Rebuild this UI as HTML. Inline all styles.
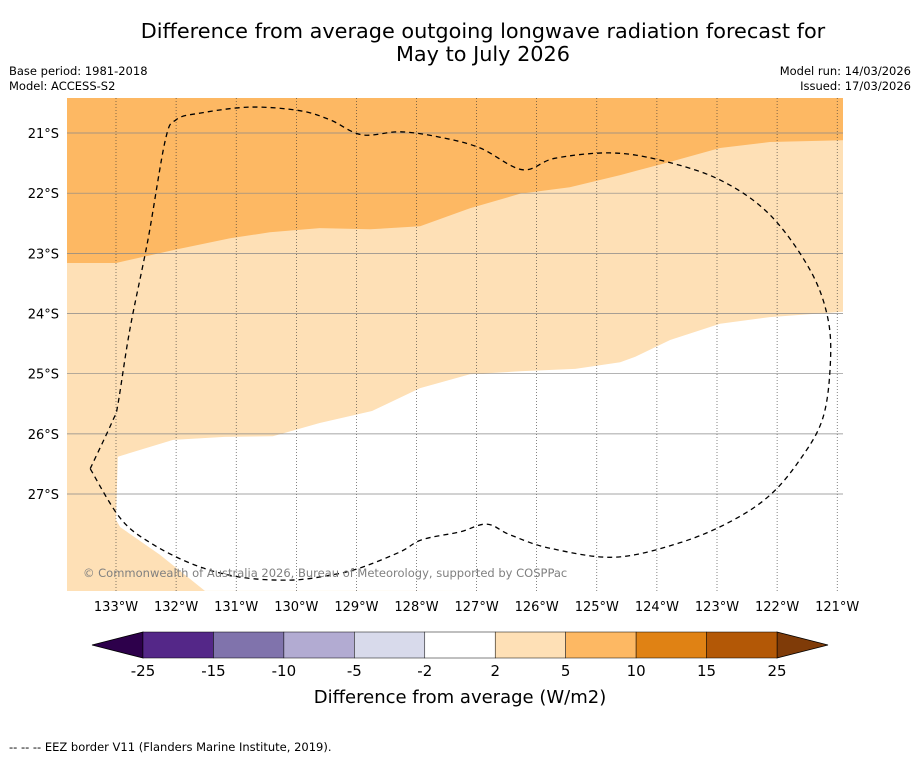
<!DOCTYPE html>
<html><head><meta charset="utf-8"><style>
body{margin:0;background:#fff;font-family:"Liberation Sans","DejaVu Sans",sans-serif;}
svg text{font-family:"DejaVu Sans","Liberation Sans",sans-serif;}
</style></head><body>
<svg id="chart" width="919" height="758" viewBox="0 0 919 758" xmlns="http://www.w3.org/2000/svg">
<rect width="919" height="758" fill="#fff"/>
<text x="483" y="38" font-size="20.8" text-anchor="middle">Difference from average outgoing longwave radiation forecast for</text>
<text x="483" y="61" font-size="20.8" text-anchor="middle">May to July 2026</text>
<text x="9" y="75" font-size="11.5">Base period: 1981-2018</text>
<text x="9" y="90" font-size="11.5">Model: ACCESS-S2</text>
<text x="911" y="75" font-size="11.5" text-anchor="end">Model run: 14/03/2026</text>
<text x="911" y="90" font-size="11.5" text-anchor="end">Issued: 17/03/2026</text>
<defs><clipPath id="mapclip"><rect x="67" y="98" width="776" height="493"/></clipPath></defs>
<g id="map" clip-path="url(#mapclip)"></g>
<g id="axes"></g>
<text x="83" y="577" font-size="11.5" fill="#808080">© Commonwealth of Australia 2026, Bureau of Meteorology, supported by COSPPac</text>
<g id="cbar"></g>
<text x="460" y="703" font-size="18" text-anchor="middle">Difference from average (W/m2)</text>
<text x="9" y="751" font-size="11.5">--  --  -- EEZ border V11 (Flanders Marine Institute, 2019).</text>
</svg>
<script>
const lonTicks=[-133,-132,-131,-130,-129,-128,-127,-126,-125,-124,-123,-122,-121];
const latTicks=[-21,-22,-23,-24,-25,-26,-27];
const cbLevels=[-25,-15,-10,-5,-2,2,5,10,15,25];
const cbColors=["#542788","#8073ac","#b2abd2","#d8daeb","#ffffff","#fee0b6","#fdb863","#e08214","#b35806"];
const cbLow="#2d004b", cbHigh="#7f3b08";
const orangeEdge=[[-133.82,-23.16],[-133.0,-23.16],[-132.02,-22.94],[-131.10,-22.75],[-130.44,-22.65],[-129.61,-22.58],[-128.77,-22.60],[-127.94,-22.55],[-127.11,-22.25],[-126.28,-22.01],[-125.45,-21.90],[-124.61,-21.70],[-123.78,-21.48],[-122.95,-21.25],[-122.12,-21.15],[-120.90,-21.12]];
const whiteEdge=[[-120.90,-23.97],[-122.12,-24.06],[-122.95,-24.17],[-123.78,-24.44],[-124.36,-24.72],[-124.61,-24.81],[-125.36,-24.92],[-126.28,-24.96],[-127.11,-25.01],[-127.94,-25.24],[-128.74,-25.62],[-129.61,-25.82],[-130.39,-26.04],[-131.19,-26.05],[-132.05,-26.10],[-132.97,-26.38],[-133.0,-27.43],[-132.93,-27.55],[-132.27,-28.01],[-131.52,-28.61]];
const eezBorder=[[-133.43,-26.58],[-133.05,-25.77],[-132.97,-25.52],[-132.77,-24.27],[-132.47,-22.78],[-132.18,-21.12],[-132.0,-20.78],[-131.60,-20.67],[-130.77,-20.57],[-129.94,-20.63],[-129.44,-20.78],[-128.91,-21.03],[-128.27,-20.98],[-127.61,-21.07],[-126.94,-21.25],[-126.24,-21.61],[-125.70,-21.42],[-124.78,-21.33],[-123.95,-21.45],[-122.95,-21.78],[-122.12,-22.36],[-121.45,-23.28],[-121.15,-24.11],[-121.12,-24.94],[-121.25,-25.77],[-121.62,-26.43],[-122.12,-27.02],[-122.78,-27.46],[-123.62,-27.81],[-124.70,-28.05],[-125.78,-27.90],[-126.44,-27.68],[-126.83,-27.50],[-127.28,-27.63],[-127.91,-27.76],[-128.27,-27.96],[-128.94,-28.23],[-129.44,-28.35],[-130.10,-28.43],[-130.94,-28.38],[-131.69,-28.18],[-132.43,-27.81],[-132.93,-27.40],[-133.43,-26.58]];
const NS="http://www.w3.org/2000/svg";
const X0=67,X1=843,Y0=98,Y1=591;
const xS=lon=>116+(lon+133)*60.1;
const yS=lat=>133-(lat+21)*60.17;
function mk(tag,attrs,parent){const e=document.createElementNS(NS,tag);for(const k in attrs)e.setAttribute(k,attrs[k]);parent.appendChild(e);return e;}
const map=document.getElementById('map');
const pts=a=>a.map(p=>xS(p[0]).toFixed(1)+','+yS(p[1]).toFixed(1)).join(' ');
function smooth(a){const P=a.map(p=>[xS(p[0]),yS(p[1])]);let d='M'+P[0][0].toFixed(1)+','+P[0][1].toFixed(1);
 for(let i=0;i<P.length-1;i++){const p0=P[Math.max(i-1,0)],p1=P[i],p2=P[i+1],p3=P[Math.min(i+2,P.length-1)];
  const c1=[p1[0]+(p2[0]-p0[0])/6,p1[1]+(p2[1]-p0[1])/6],c2=[p2[0]-(p3[0]-p1[0])/6,p2[1]-(p3[1]-p1[1])/6];
  d+=' C'+c1.map(v=>v.toFixed(1)).join(',')+' '+c2.map(v=>v.toFixed(1)).join(',')+' '+p2.map(v=>v.toFixed(1)).join(',');}
 return d;}
let bg=mk('rect',{x:X0,y:Y0,width:X1-X0,height:Y1-Y0,fill:cbColors[5]},map);

let op=mk('polygon',{points:X0+','+Y0+' '+pts(orangeEdge)+' '+X1+','+Y0,fill:cbColors[6]},map);

let wp=mk('polygon',{points:pts(whiteEdge)+' '+X1+','+Y1,fill:'#ffffff'},map);

const ax=document.getElementById('axes');
lonTicks.forEach(l=>{const x=xS(l);
 let g=mk('line',{x1:x,x2:x,y1:Y0,y2:Y1,stroke:'#333','stroke-width':0.6,'stroke-dasharray':'1,2'},map);
 
 let t=mk('text',{x:x,y:611,'font-size':13,'text-anchor':'middle'},ax);t.textContent=Math.abs(l)+'°W';
 });
latTicks.forEach(l=>{const y=yS(l);
 let g=mk('line',{x1:X0,x2:X1,y1:y,y2:y,stroke:'#888','stroke-width':0.7},map);
 
 let t=mk('text',{x:59,y:y+5,'font-size':13,'text-anchor':'end'},ax);t.textContent=Math.abs(l)+'°S';
 });
let ez=mk('path',{d:smooth(eezBorder),fill:'none',stroke:'#000','stroke-width':1.3,'stroke-dasharray':'5,4'},map);

const cb=document.getElementById('cbar');
const CB0=143,CB1=777,CY=632,CH=26,segW=(CB1-CB0)/cbColors.length;
let lt=mk('polygon',{points:`${CB0},${CY} 92,${CY+CH/2} ${CB0},${CY+CH}`,fill:cbLow,stroke:'#000','stroke-width':0.8},cb);

let rt=mk('polygon',{points:`${CB1},${CY} 828,${CY+CH/2} ${CB1},${CY+CH}`,fill:cbHigh,stroke:'#000','stroke-width':0.8},cb);

cbColors.forEach((c,i)=>{let r=mk('rect',{x:CB0+i*segW,y:CY,width:segW,height:CH,fill:c,stroke:'#000','stroke-width':0.5},cb);
 });
cbLevels.forEach((v,i)=>{let t=mk('text',{x:CB0+i*segW,y:676,'font-size':15,'text-anchor':'middle'},cb);t.textContent=v;
 });
</script>
</body></html>
